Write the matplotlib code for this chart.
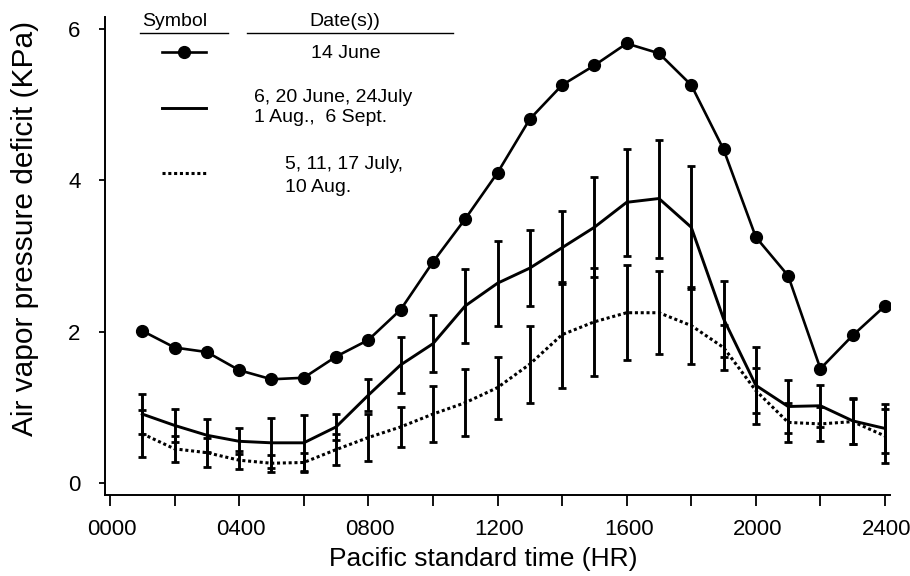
import matplotlib
matplotlib.use("Agg")
import matplotlib.pyplot as plt
import matplotlib.transforms as mtransforms
from matplotlib.lines import Line2D

plt.rcParams['font.family'] = ['Liberation Sans', 'DejaVu Sans']

# ---- data ----
times = [100, 200, 300, 400, 500, 600, 700, 800, 900, 1000, 1100, 1200,
         1300, 1400, 1500, 1600, 1700, 1800, 1900, 2000, 2100, 2200, 2300, 2400]
june14 = [2.01, 1.79, 1.73, 1.49, 1.37, 1.39, 1.67, 1.89, 2.29, 2.92, 3.49, 4.10,
          4.81, 5.26, 5.52, 5.81, 5.68, 5.26, 4.41, 3.25, 2.74, 1.51, 1.95, 2.34]
solid = [0.91, 0.76, 0.63, 0.55, 0.53, 0.53, 0.74, 1.16, 1.56, 1.84, 2.34, 2.64,
         2.84, 3.11, 3.38, 3.71, 3.76, 3.38, 2.17, 1.29, 1.01, 1.02, 0.82, 0.72]
solid_err = [0.26, 0.22, 0.22, 0.17, 0.33, 0.37, 0.17, 0.21, 0.37, 0.38, 0.49, 0.56,
             0.50, 0.48, 0.66, 0.71, 0.78, 0.81, 0.50, 0.51, 0.35, 0.28, 0.30, 0.32]
dotted = [0.65, 0.45, 0.40, 0.30, 0.26, 0.27, 0.44, 0.60, 0.74, 0.91, 1.06, 1.26,
          1.57, 1.96, 2.13, 2.25, 2.25, 2.08, 1.79, 1.22, 0.80, 0.78, 0.81, 0.62]
dotted_err = [0.31, 0.17, 0.19, 0.12, 0.11, 0.12, 0.20, 0.31, 0.27, 0.37, 0.44, 0.41,
              0.51, 0.70, 0.71, 0.63, 0.55, 0.51, 0.30, 0.30, 0.26, 0.23, 0.30, 0.36]
xtick_vals = [0, 400, 800, 1200, 1600, 2000, 2400]
xtick_labels = ["0000", "0400", "0800", "1200", "1600", "2000", "2400"]
ytick_vals = [0, 2, 4, 6]

legend_dates = ["14 June", "6, 20 June, 24July\n1 Aug.,  6 Sept.", "5, 11, 17 July,\n10 Aug."]

W, H = 910, 576
fig = plt.figure(figsize=(W / 100, H / 100), dpi=100)
ax = fig.add_axes([105 / W, (H - 495) / H, (890 - 105) / W, (495 - 17) / H])

ax.errorbar(times, dotted, yerr=dotted_err, fmt='none', ecolor='black',
            elinewidth=2.1, capsize=2.6, capthick=2.0)
ax.errorbar(times, solid, yerr=solid_err, fmt='none', ecolor='black',
            elinewidth=2.1, capsize=2.6, capthick=2.0)
ax.plot(times, dotted, color='black', lw=2.2, linestyle=(0, (1, 0.9)))
ax.plot(times, solid, color='black', lw=2.1)
ax.plot(times, june14, color='black', lw=1.9, marker='o', markersize=8.5)

ax.set_xlim(-15.5, 2415.5)
ax.set_ylim(-0.16, 6.16)
ax.set_xticks(list(range(0, 2401, 200)))
ax.set_xticklabels([xtick_labels[xtick_vals.index(v)] if v in xtick_vals else ""
                    for v in range(0, 2401, 200)])
ax.set_yticks(ytick_vals)
ax.set_yticklabels([str(v) for v in ytick_vals])
ax.tick_params(axis='x', direction='out', length=8, width=1.3, labelsize=16, pad=9)
ax.tick_params(axis='y', direction='out', length=4.5, width=1.3, labelsize=16, pad=13)
for s in ['top', 'right']:
    ax.spines[s].set_visible(False)
for s in ['left', 'bottom']:
    ax.spines[s].set_linewidth(1.4)

offset = mtransforms.ScaledTranslation(2 / 100, 0, fig.dpi_scale_trans)
for lab in ax.get_xticklabels():
    lab.set_transform(lab.get_transform() + offset)

fig.text(483 / W, 1 - 559 / H, "Pacific standard time (HR)", ha='center', va='center', fontsize=19)
fig.text(25 / W, 1 - 228 / H, "Air vapor pressure deficit (KPa)", ha='center', va='center',
         fontsize=21.5, rotation=90)

# ---- custom legend table ----
def fx(px):
    return px / W

def fy(py):
    return 1 - py / H

fs = 14
fig.text(fx(175), fy(22), "Symbol", ha='center', va='center', fontsize=fs)
fig.text(fx(345), fy(22), "Date(s))", ha='center', va='center', fontsize=fs)
fig.add_artist(Line2D([fx(140), fx(228)], [fy(33), fy(33)], color='black', lw=1.0))
fig.add_artist(Line2D([fx(247), fx(453)], [fy(33), fy(33)], color='black', lw=1.0))

fig.add_artist(Line2D([fx(162), fx(206)], [fy(52), fy(52)], color='black', lw=1.9))
fig.add_artist(Line2D([fx(184)], [fy(52)], color='black', marker='o', markersize=8.5, lw=0))
fig.add_artist(Line2D([fx(162), fx(206)], [fy(108), fy(108)], color='black', lw=2.1))
fig.add_artist(Line2D([fx(162), fx(206)], [fy(173), fy(173)], color='black', lw=2.2,
                      linestyle=(0, (1, 0.9))))

fig.text(fx(346), fy(54), legend_dates[0], ha='center', va='center', fontsize=fs)
l2 = legend_dates[1].split("\n")
fig.text(fx(254), fy(97), l2[0], ha='left', va='center', fontsize=fs)
fig.text(fx(254), fy(118), l2[1], ha='left', va='center', fontsize=fs)
l3 = legend_dates[2].split("\n")
fig.text(fx(285), fy(165), l3[0], ha='left', va='center', fontsize=fs)
fig.text(fx(285), fy(187), l3[1], ha='left', va='center', fontsize=fs)

fig.savefig("out.png", dpi=100)
